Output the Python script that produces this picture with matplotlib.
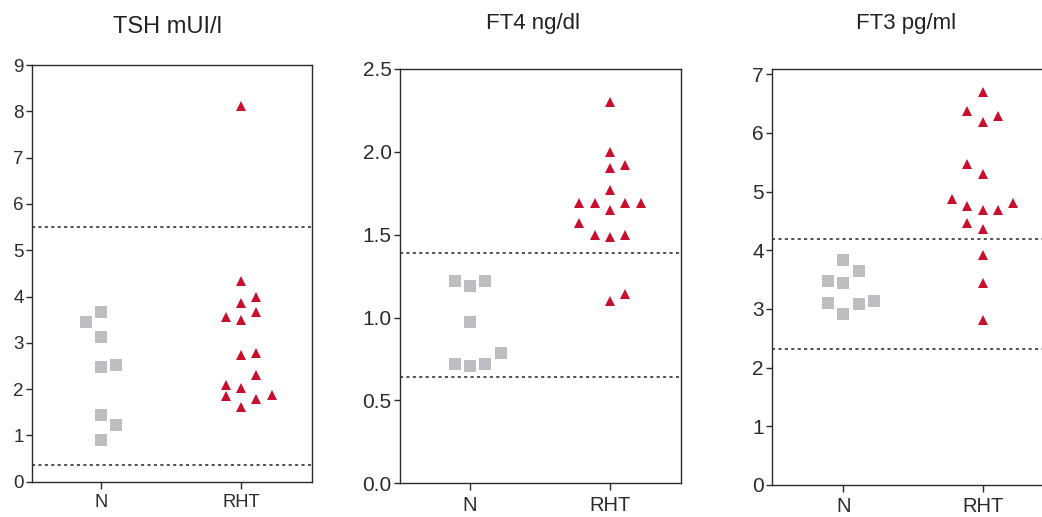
import matplotlib
matplotlib.use("Agg")
import matplotlib.pyplot as plt
import numpy as np

plt.rcParams['font.family'] = ['Liberation Sans', 'DejaVu Sans']

groups = ["N", "RHT"]

titles = ["TSH mUI/l", "FT4 ng/dl", "FT3 pg/ml"]

# TSH
tsh_n = [3.46, 3.66, 3.12, 2.47, 2.51, 1.44, 1.22, 0.90]
tsh_n_slot = [-1, 0, 0, 0, 1, 0, 1, 0]
tsh_rht = [8.11, 4.34, 3.98, 3.87, 3.66, 3.55, 3.49, 2.74, 2.77, 2.31,
           2.09, 2.03, 1.86, 1.87, 1.78, 1.62]
tsh_rht_slot = [0, 0, 1, 0, 1, -1, 0, 0, 1, 1, -1, 0, -1, 2, 1, 0]
tsh_ref = [0.35, 5.5]
tsh_ticks = [0, 1, 2, 3, 4, 5, 6, 7, 8, 9]

# FT4
ft4_n = [1.221, 1.193, 1.221, 0.973, 0.720, 0.710, 0.720, 0.788]
ft4_n_slot = [-1, 0, 1, 0, -1, 0, 1, 2]
ft4_rht = [2.30, 2.00, 1.92, 1.90, 1.77, 1.69, 1.69, 1.69, 1.69, 1.65,
           1.57, 1.50, 1.485, 1.50, 1.10, 1.14]
ft4_rht_slot = [0, 0, 1, 0, 0, -2, -1, 1, 2, 0, -2, -1, 0, 1, 0, 1]
ft4_ref = [0.643, 1.39]
ft4_ticks = [0.0, 0.5, 1.0, 1.5, 2.0, 2.5]

# FT3
ft3_n = [3.84, 3.64, 3.48, 3.44, 3.11, 3.09, 3.13, 2.92]
ft3_n_slot = [0, 1, -1, 0, -1, 1, 2, 0]
ft3_rht = [6.70, 6.38, 6.19, 6.29, 5.47, 5.30, 4.87, 4.76, 4.69, 4.69,
           4.80, 4.46, 4.36, 3.92, 3.44, 2.82]
ft3_rht_slot = [0, -1, 0, 1, -1, 0, -2, -1, 0, 1, 2, -1, 0, 0, 0, 0]
ft3_ref = [2.31, 4.19]
ft3_ticks = [0, 1, 2, 3, 4, 5, 6, 7]

W, H = 1042, 517
fig = plt.figure(figsize=(W / 100, H / 100), dpi=100)

RED = '#C8102E'
GREY = '#BDBEC2'
DARK = '#2b2b2b'
STEP = 0.11

panels = [
    dict(box=(32, 312, 65, 481.7), ylim=(0, 9), xlim=(-0.493, 1.507),
         n=tsh_n, ns=tsh_n_slot, r=tsh_rht, rs=tsh_rht_slot, ref=tsh_ref,
         ticks=tsh_ticks, fmt="{:.0f}", title=titles[0], tx=167.5, ty=33, tfs=17,
         yfs=13.5, xfs=13.2),
    dict(box=(400, 681, 69, 483.3), ylim=(0, 2.5), xlim=(-0.5, 1.507),
         n=ft4_n, ns=ft4_n_slot, r=ft4_rht, rs=ft4_rht_slot, ref=ft4_ref,
         ticks=ft4_ticks, fmt="{:.1f}", title=titles[1], tx=532.5, ty=29, tfs=16,
         yfs=15, xfs=14.5),
    dict(box=(772.3, 1051, 69.3, 485), ylim=(0, 7.085), xlim=(-0.51, 1.49),
         n=ft3_n, ns=ft3_n_slot, r=ft3_rht, rs=ft3_rht_slot, ref=ft3_ref,
         ticks=ft3_ticks, fmt="{:.0f}", title=titles[2], tx=905.7, ty=29.5, tfs=16,
         yfs=15, xfs=14.5),
]

for p in panels:
    l, r, t, b = p['box']
    ax = fig.add_axes([l / W, 1 - b / H, (r - l) / W, (b - t) / H])
    ax.set_xlim(*p['xlim'])
    ax.set_ylim(*p['ylim'])
    for yv in p['ref']:
        ax.axhline(yv, color='#222222', lw=1.1, linestyle=(0, (2, 2.2)), zorder=1)
    xn = 0 + STEP * np.array(p['ns'])
    xr = 1 + STEP * np.array(p['rs'])
    ax.plot(xn, p['n'], linestyle='none', marker='s', ms=8.6, color=GREY,
            markeredgewidth=0, zorder=3, clip_on=False)
    ax.plot(xr, p['r'], linestyle='none', marker='^', ms=7.6, color=RED,
            markeredgewidth=0, zorder=3, clip_on=False)
    ax.set_xticks([0, 1])
    ax.set_xticklabels(groups)
    ax.set_yticks(p['ticks'])
    ax.set_yticklabels([p['fmt'].format(v) for v in p['ticks']])
    ax.tick_params(axis='both', colors=DARK, width=1.0)
    ax.tick_params(axis='y', length=4, pad=2, labelsize=p['yfs'])
    ax.tick_params(axis='x', length=5, pad=4, labelsize=p['xfs'])
    for s in ax.spines.values():
        s.set_color(DARK)
        s.set_linewidth(1.0)
    fig.text(p['tx'] / W, 1 - p['ty'] / H, p['title'], ha='center',
             va='baseline', fontsize=p['tfs'], color='#222222')

fig.savefig("out.png", dpi=100)
